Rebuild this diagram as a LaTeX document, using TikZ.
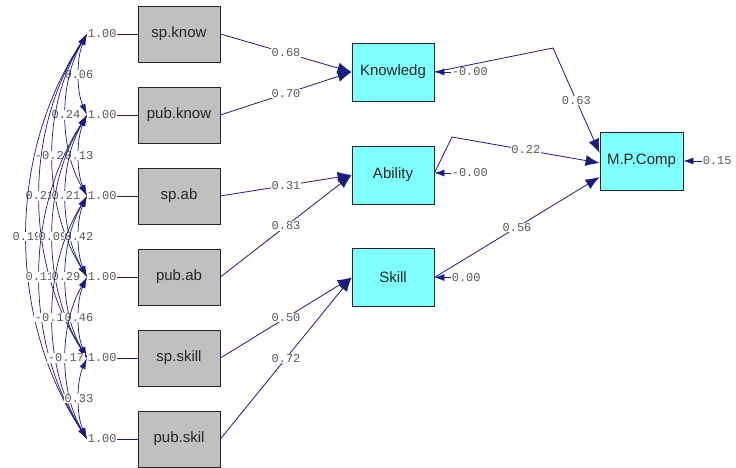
\documentclass[tikz,border=0pt]{standalone}
\usepackage{fontspec}
\setmainfont{Liberation Sans}
\newfontfamily\monof{Liberation Mono}
\usetikzlibrary{arrows.meta,calc}
\definecolor{navyl}{RGB}{28,28,125}
\definecolor{boxgray}{RGB}{192,192,192}
\definecolor{boxcyan}{RGB}{128,255,255}
\definecolor{lblgray}{RGB}{90,90,90}
\begin{document}
\begin{tikzpicture}[x=1pt,y=-1pt,
  obs/.style={draw=black!85, line width=0.8pt, fill=boxgray, minimum width=82pt, minimum height=56pt, inner sep=0pt, font=\fontsize{15}{18}\selectfont, text=black!85},
  lat/.style={obs, fill=boxcyan, minimum height=58pt},
  num/.style={font=\monof\fontsize{12}{14}\selectfont, text=lblgray, inner sep=0.6pt},
  numbg/.style={num, fill=white},
  pth/.style={draw=navyl, line width=0.8pt, -{Latex[length=14pt,width=11pt]}},
  err/.style={draw=navyl, line width=0.8pt, -{Latex[length=10pt,width=7pt]}},
  covl/.style={draw=navyl, line width=0.7pt, {Latex[length=11pt,width=6pt]}-{Latex[length=11pt,width=6pt]}},
  tie/.style={draw=navyl, line width=0.8pt}
]
\fill[white] (0,0) rectangle (736,468);
\useasboundingbox (0,0) rectangle (736,468);

% observed variables
\foreach \n/\t/\y in {1/sp.know/34, 2/pub.know/115, 3/sp.ab/196, 4/pub.ab/277, 5/sp.skill/358, 6/pub.skil/439} {
  \node[obs] (o\n) at (179,\y) {\t};
  \node[num, anchor=west] (v\n) at (87,\y) {1.00};
  \draw[tie] (v\n.east) -- (o\n.west);
}

% latent variables
\node[lat] (K) at (393,72) {Knowledg};
\node[lat] (A) at (393,175) {Ability};
\node[lat] (S) at (393,277.5) {Skill};
\node[lat, minimum width=83pt] (M) at (641.5,161) {M.P.Comp};

% loadings
\draw[pth] (o1.east) -- node[numbg]{0.68} (K.west);
\draw[pth] (o2.east) -- node[numbg]{0.70} (K.west);
\draw[pth] (o3.east) -- node[numbg]{0.31} (A.west);
\draw[pth] (o4.east) -- node[numbg]{0.83} (A.west);
\draw[pth] (o5.east) -- node[numbg]{0.50} (S.west);
\draw[pth] (o6.east) -- node[numbg]{0.72} (S.west);

% structural paths
\coordinate (kb) at (553,48);
\coordinate (ab) at (452,137);
\draw[pth] (K.east) -- (kb) -- node[numbg]{0.63} ($(M.west)+(0,-8)$);
\draw[pth] ($(A.east)+(0,-2)$) -- (ab) -- node[numbg]{0.22} ($(M.west)+(0,2)$);
\draw[pth] (S.east) -- node[numbg]{0.56} ($(M.west)+(0,16)$);

% error terms
\node[num, anchor=west] (eK) at (451,72) {-0.00};
\draw[err] (eK.west) -- (K.east);
\node[num, anchor=west] (eA) at (451,173) {-0.00};
\draw[err] (eA.west) -- ($(A.east)+(0,-2)$);
\node[num, anchor=west] (eS) at (451,277.5) {0.00};
\draw[err] (eS.west) -- (S.east);
\node[num, anchor=west] (eM) at (702,161) {0.15};
\draw[err] (eM.west) -- (M.east);

% covariances
\foreach \i/\j/\l in {1/2/0.06, 1/3/0.24, 1/4/-0.24, 1/5/0.21, 1/6/0.19, 2/3/0.13, 2/4/0.21, 2/5/0.09, 2/6/0.11, 3/4/0.42, 3/5/0.29, 3/6/-0.14, 4/5/0.46, 4/6/-0.17, 5/6/0.33} {
  \pgfmathsetmacro\dd{\j-\i}
  \pgfmathsetmacro\cc{(13*\dd-5)/0.75}
  \pgfmathsetmacro\dy{24.3*\dd}
  \draw[covl] (v\i.west) .. controls +(-\cc,\dy) and +(-\cc,-\dy) .. node[numbg]{\l} (v\j.west);
}
\end{tikzpicture}
\end{document}
